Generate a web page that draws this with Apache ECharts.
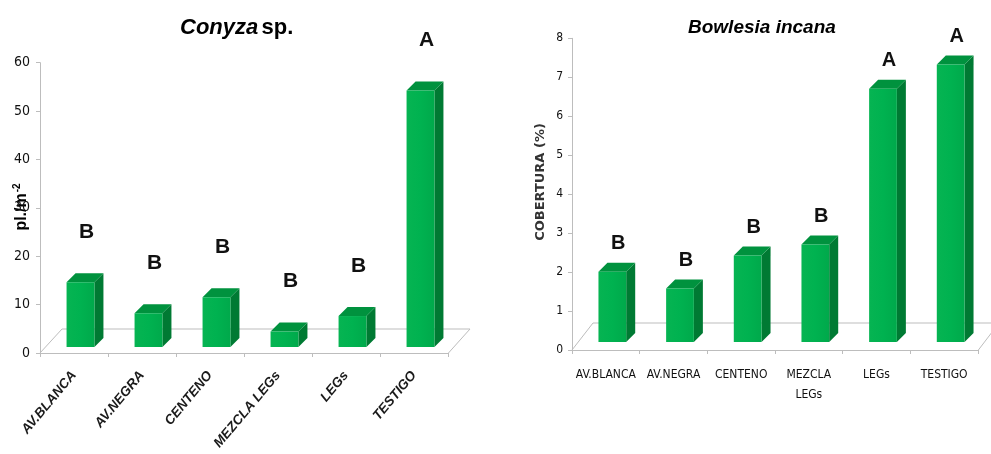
<!DOCTYPE html>
<html>
<head>
<meta charset="utf-8">
<script src="https://cdn.jsdelivr.net/npm/echarts@6/dist/echarts.min.js"></script>
<style>
  html, body { margin: 0; padding: 0; background: #ffffff; }
  #chart { width: 991px; height: 454px; }
</style>
</head>
<body>
<div id="chart"></div>
<script>
// Conyza sp. — plant density (pl./m-2) per cover crop treatment
const categoriesConyza = ['AV.BLANCA', 'AV.NEGRA', 'CENTENO', 'MEZCLA LEGs', 'LEGs', 'TESTIGO'];
const densityConyza = [13.4, 7.0, 10.3, 3.2, 6.4, 53];
const lettersConyza = ['B', 'B', 'B', 'B', 'B', 'A'];
const ticksConyza = { min: 0, max: 60, interval: 10 };

// Bowlesia incana — ground cover (%) per treatment
const categoriesBowlesia = ['AV.BLANCA', 'AV.NEGRA', 'CENTENO', 'MEZCLA\nLEGs', 'LEGs', 'TESTIGO'];
const coverBowlesia = [1.8, 1.37, 2.22, 2.5, 6.5, 7.12];
const lettersBowlesia = ['B', 'B', 'B', 'B', 'A', 'A'];
const ticksBowlesia = { min: 0, max: 8, interval: 1 };

const SIDE = '#007a33';
const TOP = '#00923e';
const LINE = '#bdbdbd';
const SANS = "'Liberation Sans', Arial, sans-serif";
const NARROW = "'Liberation Sans Narrow', 'DejaVu Sans Condensed', 'Liberation Sans', sans-serif";

// Oblique floor drawn behind the columns of one grid
function floorRenderer(dx, dy) {
  return function (params) {
    const cs = params.coordSys;
    const x0 = cs.x, x1 = cs.x + cs.width, yb = cs.y + cs.height;
    return {
      type: 'polyline',
      silent: true,
      shape: { points: [[x0, yb], [x0 + dx, yb - dy], [x1 + dx, yb - dy], [x1, yb + 0.5]] },
      style: { stroke: LINE, lineWidth: 1, fill: null }
    };
  };
}

// Extruded column with a significance letter above it
function columnRenderer(letters, lift, letterGap, letterSize) {
  const shiftX = 6.5, depthX = 9, depthY = 9;
  return function (params, api) {
    const i = api.value(0);
    const base = api.coord([i, 0]);
    const top = api.coord([i, api.value(1)]);
    const bw = api.size([1, 0])[0] * 0.41;
    const xl = base[0] + shiftX - bw / 2, xr = xl + bw;
    const yb = base[1] - lift, yt = top[1] - lift;
    return {
      type: 'group',
      children: [
        {
          type: 'polygon',
          shape: { points: [[xr, yb], [xr, yt], [xr + depthX, yt - depthY], [xr + depthX, yb - depthY]] },
          style: { fill: SIDE }
        },
        {
          type: 'polygon',
          shape: { points: [[xl, yt], [xr, yt], [xr + depthX, yt - depthY], [xl + depthX, yt - depthY]] },
          style: { fill: TOP }
        },
        {
          type: 'rect',
          shape: { x: xl, y: yt, width: bw, height: yb - yt },
          style: {
            fill: new echarts.graphic.LinearGradient(0, 0, 1, 0, [
              { offset: 0, color: '#06b452' },
              { offset: 0.5, color: '#00b250' },
              { offset: 1, color: '#00a94b' }
            ])
          }
        },
        {
          type: 'text',
          style: {
            text: letters[params.dataIndex],
            x: xl + bw / 2 + 6,
            y: yt - letterGap,
            align: 'center',
            verticalAlign: 'middle',
            fontFamily: SANS,
            fontWeight: 'bold',
            fontSize: letterSize,
            fill: '#111111'
          }
        }
      ]
    };
  };
}

const chart = echarts.init(document.getElementById('chart'), null, { renderer: 'canvas' });

chart.setOption({
  animation: false,
  backgroundColor: '#ffffff',
  grid: [
    { left: 40, right: 543, top: 62.7, bottom: 101 },
    { left: 572, right: 13, top: 38.3, bottom: 104 }
  ],
  xAxis: [
    {
      type: 'category',
      gridIndex: 0,
      data: categoriesConyza,
      axisLine: { lineStyle: { color: LINE } },
      axisTick: { show: true, length: 4, lineStyle: { color: LINE } },
      axisLabel: {
        interval: 0,
        rotate: 50,
        margin: 20,
        fontFamily: SANS,
        fontStyle: 'italic',
        fontWeight: 'bold',
        fontSize: 13.5,
        color: '#1a1a1a'
      }
    },
    {
      type: 'category',
      gridIndex: 1,
      data: categoriesBowlesia,
      axisLine: { lineStyle: { color: LINE } },
      axisTick: { show: true, length: 4, lineStyle: { color: LINE } },
      axisLabel: {
        interval: 0,
        margin: 15,
        lineHeight: 20,
        fontFamily: NARROW,
        fontSize: 12,
        color: '#111111'
      }
    }
  ],
  yAxis: [
    {
      type: 'value',
      gridIndex: 0,
      min: ticksConyza.min,
      max: ticksConyza.max,
      interval: ticksConyza.interval,
      axisLine: { show: true, lineStyle: { color: LINE } },
      axisTick: { show: true, length: 4, lineStyle: { color: LINE } },
      splitLine: { show: false },
      axisLabel: { margin: 10, fontFamily: NARROW, fontSize: 14, color: '#111111' }
    },
    {
      type: 'value',
      gridIndex: 1,
      min: ticksBowlesia.min,
      max: ticksBowlesia.max,
      interval: ticksBowlesia.interval,
      axisLine: { show: true, lineStyle: { color: LINE } },
      axisTick: { show: true, length: 4, lineStyle: { color: LINE } },
      splitLine: { show: false },
      axisLabel: { margin: 9, fontFamily: NARROW, fontSize: 12, color: '#111111' }
    }
  ],
  series: [
    {
      type: 'custom',
      xAxisIndex: 0,
      yAxisIndex: 0,
      silent: true,
      renderItem: floorRenderer(22, 24),
      data: [[0, 0]],
      z: 1
    },
    {
      type: 'custom',
      xAxisIndex: 1,
      yAxisIndex: 1,
      silent: true,
      renderItem: floorRenderer(21, 27),
      data: [[0, 0]],
      z: 1
    },
    {
      type: 'custom',
      name: 'Conyza sp.',
      xAxisIndex: 0,
      yAxisIndex: 0,
      renderItem: columnRenderer(lettersConyza, 6, 50, 21),
      encode: { x: 0, y: 1 },
      data: densityConyza.map((v, i) => [i, v]),
      z: 3
    },
    {
      type: 'custom',
      name: 'Bowlesia incana',
      xAxisIndex: 1,
      yAxisIndex: 1,
      renderItem: columnRenderer(lettersBowlesia, 8, 28, 20),
      encode: { x: 0, y: 1 },
      data: coverBowlesia.map((v, i) => [i, v]),
      z: 3
    }
  ],
  graphic: [
    {
      type: 'text',
      left: 180,
      top: 17,
      style: {
        text: '{i|Conyza} {n|sp.}',
        rich: {
          i: { fontFamily: SANS, fontSize: 22, fontWeight: 'bold', fontStyle: 'italic', fill: '#000' },
          n: { fontFamily: SANS, fontSize: 22, fontWeight: 'bold', fill: '#000' }
        }
      }
    },
    {
      type: 'text',
      left: 688,
      top: 18,
      style: {
        text: 'Bowlesia incana',
        fontFamily: SANS,
        fontSize: 19,
        fontWeight: 'bold',
        fontStyle: 'italic',
        fill: '#000'
      }
    },
    {
      type: 'text',
      x: 22,
      y: 207,
      rotation: Math.PI / 2,
      style: {
        text: '{b|pl./m}{s|-2}',
        align: 'center',
        verticalAlign: 'middle',
        rich: {
          b: { fontFamily: SANS, fontSize: 16, fontWeight: 'bold', fill: '#000' },
          s: { fontFamily: SANS, fontSize: 10, fontWeight: 'bold', fill: '#000', padding: [0, 0, 10, 1] }
        }
      }
    },
    {
      type: 'text',
      x: 541,
      y: 182,
      rotation: Math.PI / 2,
      style: {
        text: 'COBERTURA (%)',
        align: 'center',
        verticalAlign: 'middle',
        fontFamily: "'DejaVu Sans', Verdana, sans-serif",
        fontSize: 13,
        fontWeight: 'bold',
        fill: '#333333'
      }
    }
  ]
});
</script>
</body>
</html>
